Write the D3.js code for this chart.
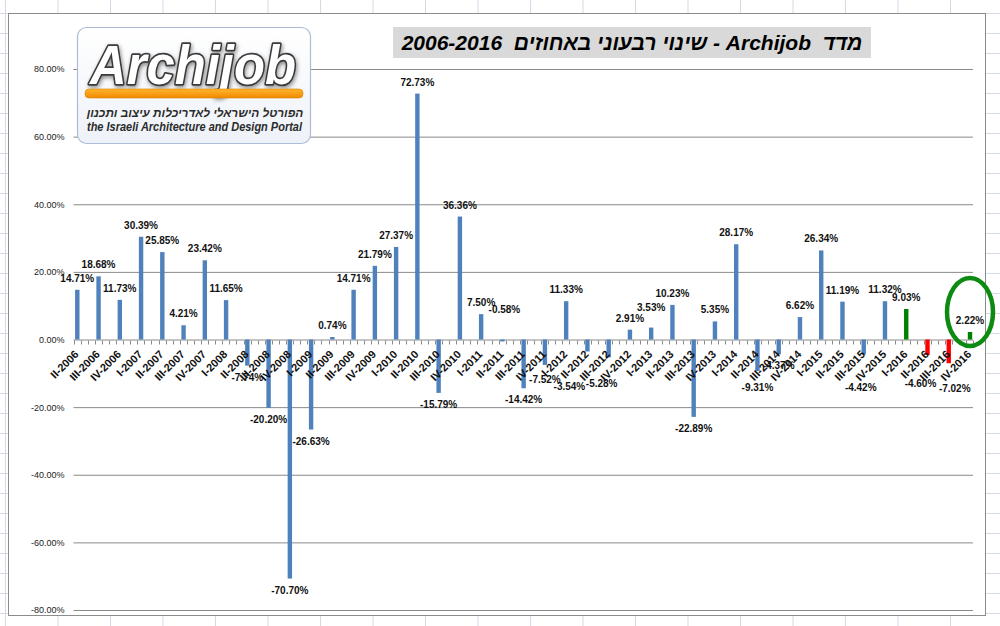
<!DOCTYPE html>
<html>
<head>
<meta charset="utf-8">
<script src="https://cdn.jsdelivr.net/npm/d3@7"></script>
<style>
  body { margin: 0; background: #fff; }
  svg { display: block; font-family: "Liberation Sans", Arial, sans-serif; }
</style>
</head>
<body>
<div id="chart"></div>
<script>
// quarters shown on the category axis
const quarters = [
  "II-2006", "III-2006", "IV-2006", "I-2007", "II-2007", "III-2007", "IV-2007",
  "I-2008", "II-2008", "III-2008", "IV-2008", "I-2009", "II-2009", "III-2009", "IV-2009",
  "I-2010", "II-2010", "III-2010", "IV-2010", "I-2011", "II-2011", "III-2011", "IV-2011",
  "I-2012", "II-2012", "III-2012", "IV-2012", "I-2013", "II-2013", "III-2013", "IV-2013",
  "I-2014", "II-2014", "III-2014", "IV-2014", "I-2015", "II-2015", "III-2015", "IV-2015",
  "I-2016", "II-2016", "III-2016", "IV-2016"
];

// quarterly change, percent
const changes = [
  14.71, 18.68, 11.73, 30.39, 25.85, 4.21, 23.42,
  11.65, -7.74, -20.20, -70.70, -26.63, 0.74, 14.71, 21.79,
  27.37, 72.73, -15.79, 36.36, 7.50, -0.58, -14.42, -7.52,
  11.33, -3.54, -5.28, 2.91, 3.53, 10.23, -22.89, 5.35,
  28.17, -9.31, -4.37, 6.62, 26.34, 11.19, -4.42, 11.32,
  9.03, -4.60, -7.02, 2.22
];

const yTicks = [80, 60, 40, 20, 0, -20, -40, -60, -80];

const titleText = "מדד  Archijob - שינוי רבעוני באחוזים  2006-2016";
const logoName = "Archijob";
const logoHebrew = "הפורטל הישראלי לאדריכלות עיצוב ותכנון";
const logoEnglish = "the Israeli Architecture and Design Portal";

const W = 1000, H = 626;

const svg = d3.select("#chart").append("svg")
    .attr("width", W)
    .attr("height", H);

const defs = svg.append("defs");

// spreadsheet cells behind the chart
const sheet = svg.append("g").attr("stroke", "#d4dbe6").attr("stroke-width", 1);
sheet.selectAll("line.col")
  .data(d3.range(5.5, W, 52.5))
  .join("line")
    .attr("x1", d => d).attr("x2", d => d)
    .attr("y1", 0).attr("y2", H);
sheet.selectAll("line.row")
  .data(d3.range(13.5, H, 20))
  .join("line")
    .attr("x1", 0).attr("x2", W)
    .attr("y1", d => d).attr("y2", d => d);

// chart area
svg.append("rect")
    .attr("x", 8.5).attr("y", 13.5)
    .attr("width", 977).attr("height", 602)
    .attr("fill", "#fff")
    .attr("stroke", "#8c8c8c");

// scales
const x = d3.scalePoint()
    .domain(quarters)
    .range([77.3, 970]);
const y = d3.scaleLinear()
    .domain([-80, 80])
    .range([610, 69]);

const plotLeft = 73.5, plotRight = 973;

// gridlines + y labels
const yAxis = svg.append("g")
    .attr("transform", `translate(${plotLeft},0)`)
    .call(d3.axisLeft(y)
      .tickValues(yTicks)
      .tickSize(-(plotRight - plotLeft))
      .tickPadding(9)
      .tickFormat(d => d.toFixed(2) + "%"));
yAxis.select(".domain").remove();
yAxis.selectAll(".tick line").attr("stroke", "#8a8a8a");
yAxis.selectAll(".tick text")
    .attr("font-family", "'Liberation Sans', Arial, sans-serif")
    .attr("font-size", 9)
    .attr("fill", "#222");

// small ticks under the zero line
const y0 = Math.round(y(0)) + 0.5;
svg.append("g")
  .selectAll("line")
  .data(d3.range(plotLeft, plotRight + 1, x.step() / 3))
  .join("line")
    .attr("x1", d => Math.round(d) + 0.5).attr("x2", d => Math.round(d) + 0.5)
    .attr("y1", y0).attr("y2", y0 + 4)
    .attr("stroke", "#8a8a8a");

// bars
const barColor = (q, v) => q.endsWith("2016") ? (v >= 0 ? "#008000" : "#ff0000") : "#4f81bd";
const rows = quarters.map((q, i) => ({ q, v: changes[i] }));

svg.append("g")
  .selectAll("rect")
  .data(rows)
  .join("rect")
    .attr("x", d => x(d.q) - 2.2)
    .attr("width", 4.4)
    .attr("y", d => y(Math.max(0, d.v)))
    .attr("height", d => Math.abs(y(d.v) - y(0)))
    .attr("fill", d => barColor(d.q, d.v));

// category labels
svg.append("g")
  .selectAll("text")
  .data(quarters)
  .join("text")
    .attr("transform", d => `translate(${x(d) + 2},355) rotate(-45)`)
    .attr("text-anchor", "end")
    .attr("font-size", 11)
    .attr("font-weight", "bold")
    .attr("fill", "#111")
    .text(d => d);

// value labels (a few were dragged by hand in the original)
const nudge = {
  "II-2011": [2, -43], "IV-2011": [0, 3], "II-2012": [-18, 24], "III-2012": [-7, 15],
  "I-2013": [0, -9], "II-2014": [0, 5], "III-2015": [-3, 22], "II-2016": [-7, 17],
  "III-2016": [6, 14]
};
svg.append("g")
  .selectAll("text")
  .data(rows)
  .join("text")
    .attr("x", d => x(d.q) + (nudge[d.q] ? nudge[d.q][0] : 0))
    .attr("y", d => (d.v >= 0 ? y(d.v) - 8 : y(d.v) + 15) + (nudge[d.q] ? nudge[d.q][1] : 0))
    .attr("text-anchor", "middle")
    .attr("font-size", 10)
    .attr("font-weight", "bold")
    .attr("fill", "#111")
    .text(d => d.v.toFixed(2) + "%");

// highlight ring around the last quarter
svg.append("ellipse")
    .attr("cx", x("IV-2016"))
    .attr("cy", 312)
    .attr("rx", 23)
    .attr("ry", 34)
    .attr("fill", "none")
    .attr("stroke", "#0c8a12")
    .attr("stroke-width", 4.5);

// title
svg.append("rect")
    .attr("x", 393).attr("y", 27)
    .attr("width", 478).attr("height", 31)
    .attr("fill", "#d9d9d9");
svg.append("text")
    .attr("x", 632).attr("y", 50)
    .attr("text-anchor", "middle")
    .attr("direction", "rtl")
    .style("white-space", "pre")
    .attr("font-size", 21)
    .attr("font-weight", "bold")
    .attr("font-style", "italic")
    .attr("fill", "#000")
    .text(titleText);

// logo
const boxGrad = defs.append("linearGradient").attr("id", "boxGrad")
    .attr("x1", 0).attr("y1", 0).attr("x2", 0).attr("y2", 1);
boxGrad.append("stop").attr("offset", "0%").attr("stop-color", "#ffffff");
boxGrad.append("stop").attr("offset", "100%").attr("stop-color", "#eef2f8");

const barGrad = defs.append("linearGradient").attr("id", "barGrad")
    .attr("x1", 0).attr("y1", 0).attr("x2", 0).attr("y2", 1);
barGrad.append("stop").attr("offset", "0%").attr("stop-color", "#ffb52e");
barGrad.append("stop").attr("offset", "100%").attr("stop-color", "#f08a00");

const shadow = defs.append("filter").attr("id", "shadow")
    .attr("x", "-10%").attr("y", "-20%").attr("width", "120%").attr("height", "150%");
shadow.append("feDropShadow")
    .attr("dx", 1).attr("dy", 2).attr("stdDeviation", 2)
    .attr("flood-color", "#000").attr("flood-opacity", 0.45);

const logo = svg.append("g");
logo.append("rect")
    .attr("x", 77.5).attr("y", 27.5)
    .attr("width", 233).attr("height", 116)
    .attr("rx", 9)
    .attr("fill", "url(#boxGrad)")
    .attr("stroke", "#a9bdd6")
    .attr("stroke-width", 1.2);
logo.append("text")
    .attr("x", 90).attr("y", 84)
    .attr("textLength", 206)
    .attr("lengthAdjust", "spacingAndGlyphs")
    .attr("font-size", 56)
    .attr("font-weight", "bold")
    .attr("font-style", "italic")
    .attr("fill", "#fff")
    .attr("stroke", "#3a3a3a")
    .attr("stroke-width", 3.5)
    .attr("paint-order", "stroke")
    .attr("stroke-linejoin", "round")
    .attr("filter", "url(#shadow)")
    .text(logoName);
logo.append("rect")
    .attr("x", 85).attr("y", 89)
    .attr("width", 218).attr("height", 9)
    .attr("rx", 4)
    .attr("fill", "url(#barGrad)")
    .attr("stroke", "#d98200")
    .attr("stroke-width", 0.6);
logo.append("text")
    .attr("x", 195).attr("y", 117)
    .attr("text-anchor", "middle")
    .attr("direction", "rtl")
    .attr("font-size", 11.8)
    .attr("font-weight", "bold")
    .attr("font-style", "italic")
    .attr("fill", "#2b2b2b")
    .text(logoHebrew);
logo.append("text")
    .attr("x", 87).attr("y", 131)
    .attr("textLength", 215)
    .attr("lengthAdjust", "spacingAndGlyphs")
    .attr("font-size", 12)
    .attr("font-weight", "bold")
    .attr("font-style", "italic")
    .attr("fill", "#2b2b2b")
    .text(logoEnglish);
</script>
</body>
</html>
